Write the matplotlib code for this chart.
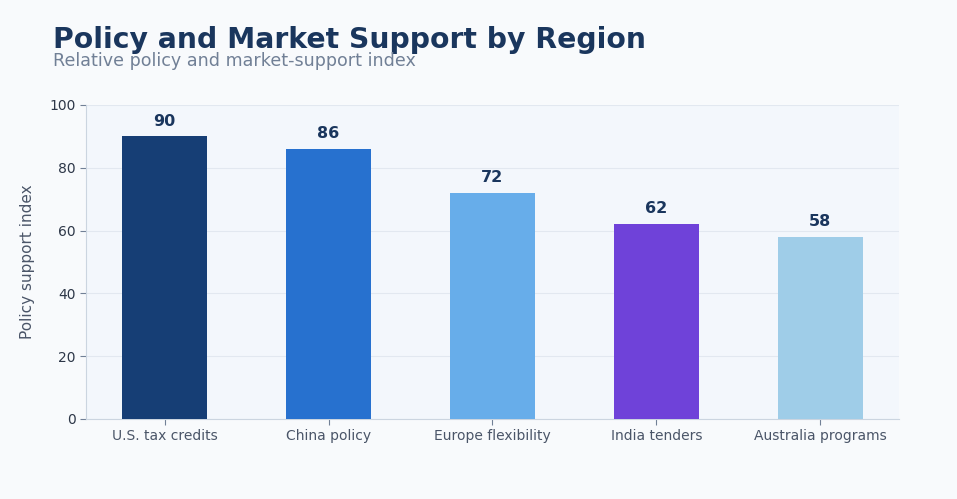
import matplotlib
matplotlib.use("Agg")
import matplotlib.pyplot as plt

categories = ["U.S. tax credits", "China policy", "Europe flexibility", "India tenders", "Australia programs"]
values = [90, 86, 72, 62, 58]
colors = ["#163e75", "#2771cf", "#67adea", "#6f42d9", "#9fcde8"]
yticks = [0, 20, 40, 60, 80, 100]

fig = plt.figure(figsize=(9.57, 4.99), dpi=100, facecolor="#f8fafc")
ax = fig.add_axes([86/957, 1-419/499, (899-86)/957, (419-105)/499])
ax.set_facecolor("#f3f7fc")

x = list(range(len(categories)))
ax.bar(x, values, width=0.52, color=colors, zorder=3)
for xi, v in zip(x, values):
    ax.text(xi, v + 2.5, f"{v}", ha="center", va="bottom", fontsize=11.5,
            fontweight="bold", color="#1a365d", zorder=4)

ax.set_xlim(-0.48, len(categories) - 1 + 0.48)
ax.set_ylim(0, 100)
ax.set_yticks(yticks)
ax.set_xticks(x)
ax.set_xticklabels(categories)
ax.tick_params(axis="both", labelsize=10, colors="#4a5568", length=4, color="#718096")
ax.tick_params(axis="y", labelcolor="#2d3748")
ax.grid(axis="y", color="#e2e8f0", linewidth=0.8, zorder=0)
for s in ["top", "right"]:
    ax.spines[s].set_visible(False)
for s in ["left", "bottom"]:
    ax.spines[s].set_color("#cbd5e0")
ax.set_ylabel("Policy support index", fontsize=11, color="#4a5568", labelpad=10)

fig.text(53/957, 1-40/499, "Policy and Market Support by Region", fontsize=20.3,
         fontweight="bold", color="#1a365d", ha="left", va="center")
fig.text(53/957, 1-61/499, "Relative policy and market-support index", fontsize=12.6,
         color="#718096", ha="left", va="center")

fig.savefig("out.png", dpi=100, facecolor=fig.get_facecolor())
